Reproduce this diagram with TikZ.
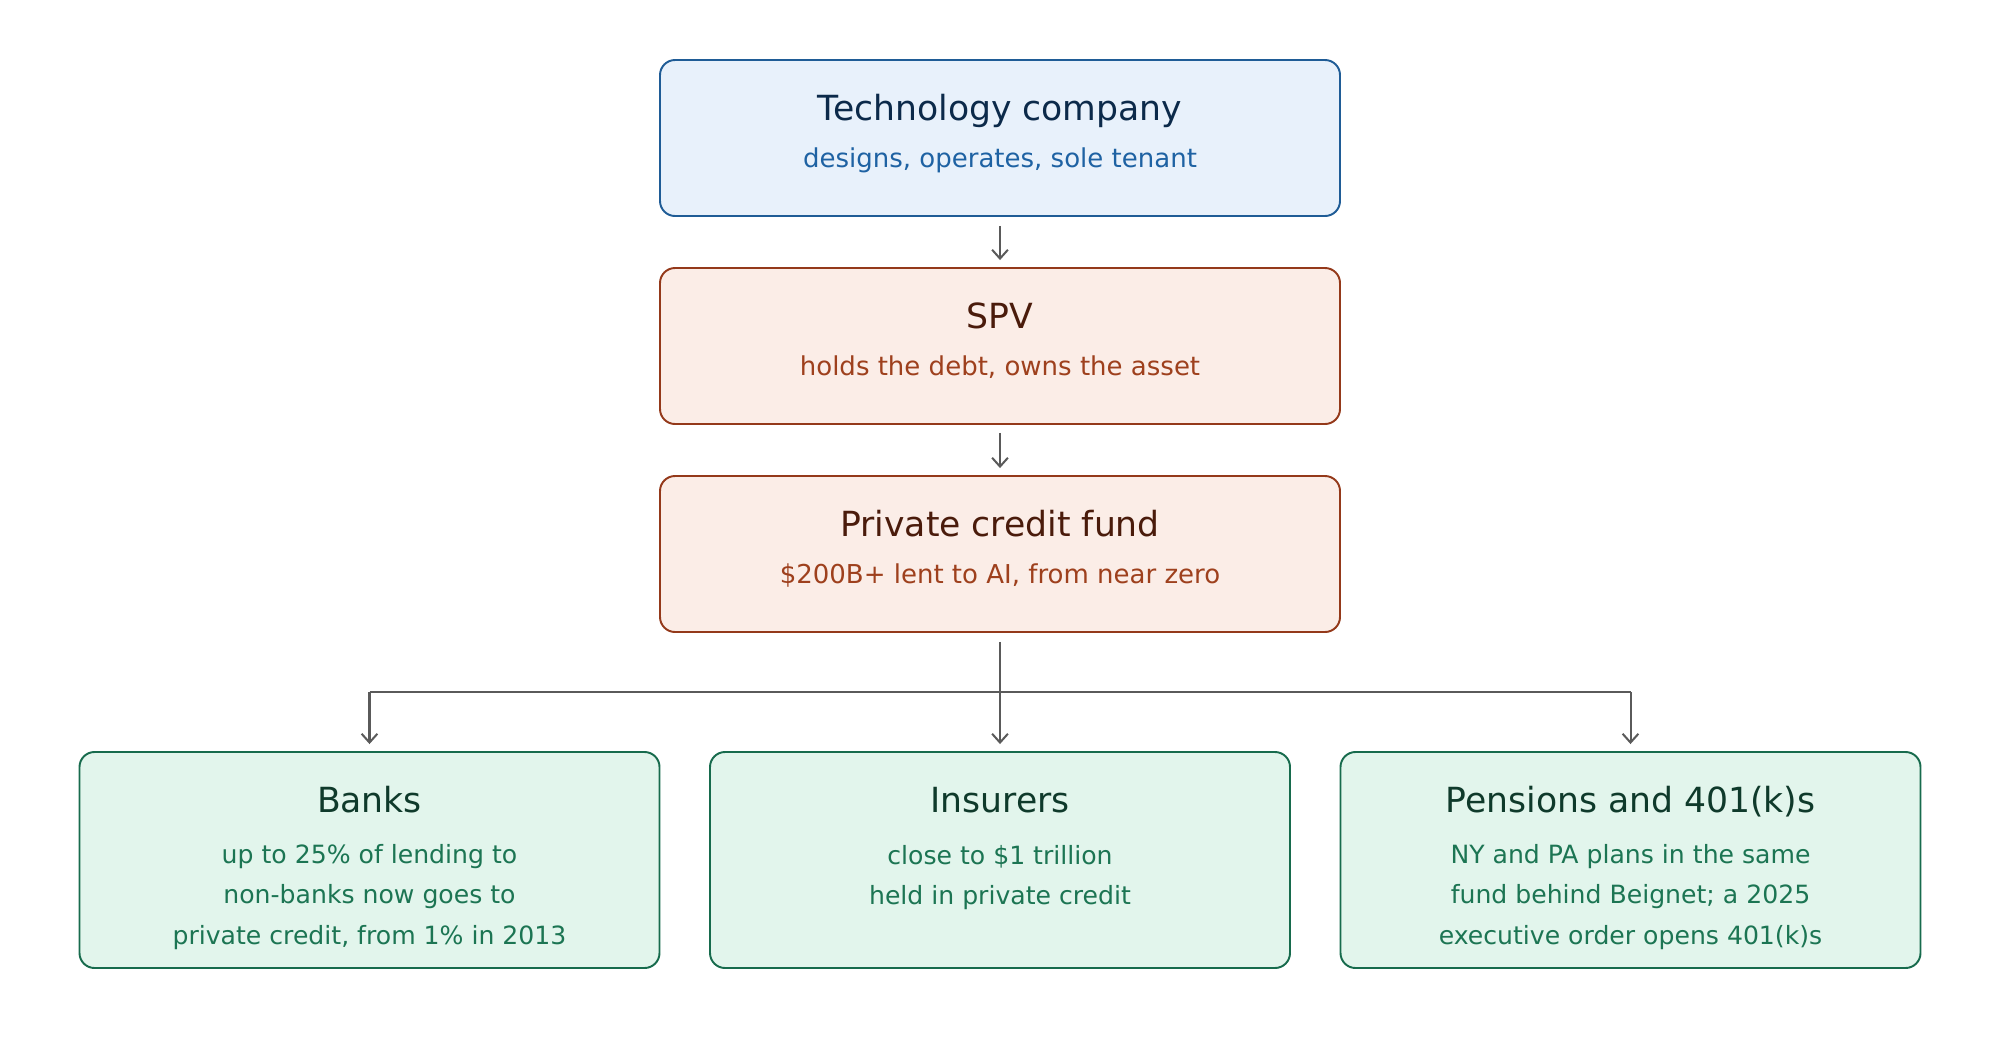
\documentclass[tikz,border=0pt]{standalone}
\usepackage{fontspec}
\setmainfont{DejaVu Sans}
\usepackage{tikz}
\usetikzlibrary{arrows.meta}

\definecolor{techfill}{HTML}{E8F1FB}
\definecolor{techline}{HTML}{1F5C96}
\definecolor{techtitle}{HTML}{0C2A4A}
\definecolor{techsub}{HTML}{1E62A3}
\definecolor{spvfill}{HTML}{FBEDE7}
\definecolor{spvline}{HTML}{94391A}
\definecolor{spvtitle}{HTML}{4A1B0B}
\definecolor{spvsub}{HTML}{9E401D}
\definecolor{grfill}{HTML}{E2F5EC}
\definecolor{grline}{HTML}{176B4D}
\definecolor{grtitle}{HTML}{0F3A2B}
\definecolor{grsub}{HTML}{1C7553}
\definecolor{linkgray}{HTML}{5A5A5A}

\begin{document}
\begin{tikzpicture}[
	box/.style={draw, line width=1.1pt, rounded corners=0.3cm, inner sep=0pt},
	wide/.style={box, minimum width=13.6cm, minimum height=3.12cm},
	low/.style={box, minimum width=11.6cm, minimum height=4.32cm},
	ttl/.style={anchor=base, font=\fontsize{19.7}{23}\selectfont},
	sub/.style={anchor=base, font=\fontsize{14.8}{17}\selectfont},
	body/.style={align=center, font=\fontsize{14.3}{22.8}\selectfont, text=grsub},
	link/.style={draw=linkgray, line width=1.15pt, -{Straight Barb[length=5pt,width=9pt]}},
	bar/.style={draw=linkgray, line width=1.15pt}
	]
	
	\useasboundingbox (0,0) rectangle (40,-20.8);
	
	\node[wide, fill=techfill, draw=techline] (tech) at (20, -2.76) {};
	\node[wide, fill=spvfill, draw=spvline] (spv) at (20, -6.92) {};
	\node[wide, fill=spvfill, draw=spvline] (fund) at (20, -11.08) {};
	\node[low, fill=grfill, draw=grline] (banks) at (7.39, -17.20) {};
	\node[low, fill=grfill, draw=grline] (insurers) at (20, -17.20) {};
	\node[low, fill=grfill, draw=grline] (pensions) at (32.61, -17.20) {};
	
	\node[ttl, text=techtitle] (techttl) at (20, -2.40) {Technology company};
	\node[sub, text=techsub] (techsub) at (20, -3.34) {designs, operates, sole tenant};
	\node[ttl, text=spvtitle] (spvttl) at (20, -6.56) {SPV};
	\node[sub, text=spvsub] (spvsub) at (20, -7.50) {holds the debt, owns the asset};
	\node[ttl, text=spvtitle] (fundttl) at (20, -10.72) {Private credit fund};
	\node[sub, text=spvsub] (fundsub) at (20, -11.66) {\$200B+ lent to AI, from near zero};
	
	\node[ttl, text=grtitle] (banksttl) at (7.39, -16.24) {Banks};
	\node[body] (banksbody) at (7.39, -17.94) {up to 25\% of lending to\\non-banks now goes to\\private credit, from 1\% in 2013};
	\node[ttl, text=grtitle] (insttl) at (20, -16.24) {Insurers};
	\node[body] (insbody) at (20, -17.56) {close to \$1 trillion\\held in private credit};
	\node[ttl, text=grtitle] (penttl) at (32.61, -16.24) {Pensions and 401(k)s};
	\node[body] (penbody) at (32.61, -17.94) {NY and PA plans in the same\\fund behind Beignet; a 2025\\executive order opens 401(k)s};
	
	\coordinate (barl) at (7.39, -13.84);
	\coordinate (barr) at (32.61, -13.84);
	
	\draw[link, shorten <=0.18cm, shorten >=0.14cm] (tech) -- (spv);
	\draw[link, shorten <=0.16cm, shorten >=0.14cm] (spv) -- (fund);
	\draw[bar] (barl) -- (barr);
	\draw[link, shorten <=0.18cm, shorten >=0.14cm] (fund) -- (insurers);
	\draw[link, shorten >=0.14cm] (barl) -- (banks);
	\draw[link, shorten >=0.14cm] (barr) -- (pensions);
	
\end{tikzpicture}
\end{document}
